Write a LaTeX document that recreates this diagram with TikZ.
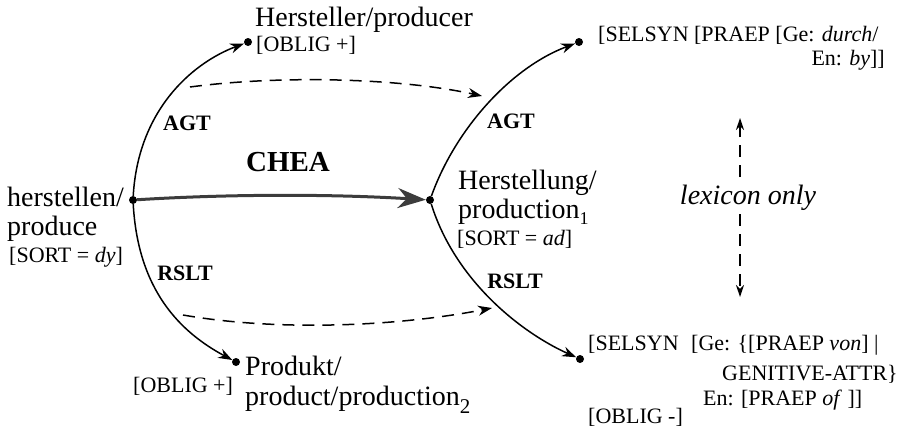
\documentclass[tikz,border=0pt]{standalone}
\usepackage{fontspec}
\setmainfont{Liberation Serif}
\usetikzlibrary{arrows.meta}
\definecolor{cheagray}{HTML}{3C3C3C}
\begin{document}
\begin{tikzpicture}[x=1pt,y=-1pt,
  dot/.style={circle,fill=black,inner sep=0pt,minimum size=8pt},
  big/.style={font=\fontsize{28}{32}\selectfont,inner sep=0pt},
  small/.style={font=\fontsize{22}{26}\selectfont,inner sep=0pt},
  rel/.style={font=\fontsize{22}{26}\selectfont\bfseries,inner sep=0pt},
  link/.style={line width=1.5pt,-{Stealth[length=14pt,width=10pt]}},
  hint/.style={line width=1.5pt,dash pattern=on 12pt off 8pt,-{Stealth[length=14pt,width=10pt]}},
  lexarrow/.style={line width=1.5pt,dash pattern=on 12pt off 8pt,-{Stealth[length=12pt,width=8pt]}},
  derive/.style={line width=3pt,draw=cheagray,-{Stealth[length=28pt,width=20pt,fill=cheagray]}}
]
\useasboundingbox (0,0) rectangle (909,431);

% lexical units
\node[dot] (verb)  at (133,200) {};
\node[dot] (noun)  at (430,200) {};
\node[dot] (agv)   at (248,42)  {};
\node[dot] (rsv)   at (236,362) {};
\node[dot] (agn)   at (579,42)  {};
\node[dot] (rsn)   at (580,359) {};

% verb side
\node[big,anchor=base west] (v1) at (7,206) {herstellen/};
\node[big,anchor=base west] (v2) at (7,235) {produce};
\node[small,anchor=base west] (v3) at (9,262) {[SORT = \textit{dy}]};

\node[big,anchor=base west] (p1) at (255,27) {Hersteller/producer};
\node[small,anchor=base west] (p2) at (256,51) {[OBLIG +]};

\node[big,anchor=base west] (r1) at (245,375) {Produkt/};
\node[big,anchor=base west] (r2) at (245,405) {product/production\raisebox{-8pt}{\fontsize{21}{21}\selectfont 2}};
\node[small,anchor=base west] (r3) at (133,392) {[OBLIG +]};

% noun side
\node[big,anchor=base west] (n1) at (458,189) {Herstellung/};
\node[big,anchor=base west] (n2) at (458,218) {production\raisebox{-6pt}{\fontsize{18}{18}\selectfont 1}};
\node[small,anchor=base west] (n3) at (457,245) {[SORT = \textit{ad}]};

\node[small,anchor=base west] (s1) at (598,41) {[SELSYN [PRAEP [Ge: \textit{durch}/};
\node[small,anchor=base east] (s2) at (885,65) {En: \textit{by}]]};

\node[small,anchor=base west] (t1) at (588,350) {[SELSYN};
\node[small,anchor=base west] (t2) at (691,350) {[Ge: \{[PRAEP \textit{von}] |};
\node[small,anchor=base west] (t3) at (722,380) {GENITIVE-ATTR\}};
\node[small,anchor=base west] (t4) at (703,405) {En: [PRAEP \textit{of} ]]};
\node[small,anchor=base west] (t5) at (588,423) {[OBLIG -]};

% relation labels
\node[rel,anchor=base] (agt1) at (187,130) {AGT};
\node[rel,anchor=base] (rsl1) at (185,280) {RSLT};
\node[rel,anchor=base] (agt2) at (511,128) {AGT};
\node[rel,anchor=base] (rsl2) at (515,288) {RSLT};
\node[font=\fontsize{29}{32}\selectfont\bfseries,inner sep=0pt,anchor=base] (chea) at (288,171) {CHEA};

% relations
\draw[link] (verb) .. controls (138,112) and (190,64) .. (agv);
\draw[link] (verb) .. controls (138,290) and (180,332) .. (rsv);
\draw[link] (noun) .. controls (455,130) and (510,68) .. (agn);
\draw[link] (noun) .. controls (455,280) and (520,332) .. (rsn);
\draw[derive] (verb) .. controls (230,194) and (330,194) .. (noun);

% correspondences between valency slots
\coordinate (ha) at (190,87);
\coordinate (hb) at (482,96);
\coordinate (la) at (183,315);
\coordinate (lb) at (492,308);
\draw[hint] (ha) .. controls (280,75) and (400,78) .. (hb);
\draw[hint] (la) .. controls (280,332) and (400,326) .. (lb);

% lexicon-only link
\node[font=\fontsize{28}{32}\selectfont\itshape,inner sep=0pt,anchor=base] (lex) at (748,204) {lexicon only};
\coordinate (lexup) at (740,118);
\coordinate (lexdown) at (740,297);
\draw[lexarrow] (740,177) -- (lexup);
\draw[lexarrow] (740,214) -- (lexdown);
\end{tikzpicture}
\end{document}
